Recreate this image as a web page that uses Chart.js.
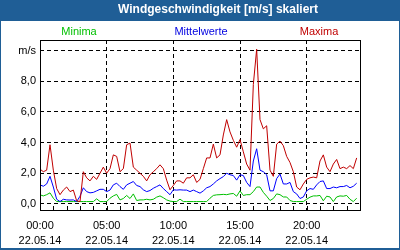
<!DOCTYPE html>
<html>
<head>
<meta charset="utf-8">
<script src="https://cdn.jsdelivr.net/npm/chart.js@4"></script>
<style>
html, body { margin: 0; padding: 0; background: #fff; }
</style>
</head>
<body>
<canvas id="wind" width="400" height="250"></canvas>
<script>
// 15 minute values, 22.05.14 00:00 - 23:45
var maxima = [2.27,2.1,2.2,3.86,2.2,1.0,0.6,0.9,1.1,0.8, 0.9,0.2,0.15,2.1,1.7,1.5,1.8,1.6,2.0,2.4,
    2.0,2.3,3.2,3.1,2.1,2.3,3.86,3.97,2.4,2.2, 2.0,1.8,1.5,1.9,2.1,2.3,2.55,2.3,1.55,0.92,
    1.2,1.5,1.5,1.35,1.7,1.7,1.9,1.4,1.6,2.3, 3.0,3.0,3.9,3.0,3.2,4.5,5.5,4.7,4.15,3.7,
    4.2,3.4,2.6,2.2,7.8,10.1,5.5,4.9,5.1,2.2, 1.8,3.9,4.1,3.8,3.1,2.7,2.1,1.1,0.92,1.3,
    1.6,1.7,1.75,1.7,2.8,3.2,2.4,2.1,2.6,2.9, 2.3,2.4,2.3,2.5,2.3,3.0];
var mittelwerte = [1.24,1.15,1.3,1.8,1.1,0.3,0.15,0.3,0.26,0.25, 0.26,0.15,0.5,1.05,0.8,0.72,0.75,0.85,0.95,0.95,
    0.8,0.9,1.24,1.35,1.13,0.95,1.24,1.35,1.46,1.2, 1.13,0.92,0.8,0.87,1.02,1.13,1.24,1.0,0.8,0.6,
    0.92,0.9,0.92,0.9,0.9,0.8,0.9,0.8,0.7,0.85, 1.05,1.13,1.3,1.5,1.65,1.78,2.0,1.9,1.85,1.55,
    1.9,1.85,1.4,1.13,2.8,3.6,2.2,2.1,1.9,0.85, 0.85,1.65,1.95,1.3,1.3,1.4,0.8,0.65,0.35,0.45,
    0.85,1.0,0.95,1.24,1.46,1.5,1.0,1.0,1.1,1.05, 1.13,1.13,1.2,1.05,1.15,1.35];
var minima = [0.59,0.52,0.6,0.72,0.37,0.15,0.15,0.15,0.15,0.15, 0.15,0.15,0.15,0.15,0.15,0.15,0.15,0.33,0.15,0.15,
    0.15,0.37,0.52,0.62,0.26,0.35,0.55,0.35,0.65,0.22, 0.26,0.26,0.3,0.26,0.3,0.44,0.52,0.4,0.26,0.18,
    0.15,0.15,0.31,0.15,0.15,0.15,0.15,0.15,0.15,0.15, 0.15,0.37,0.55,0.59,0.6,0.62,0.6,0.65,0.68,0.5,
    0.85,0.55,0.6,0.6,0.8,1.1,1.1,0.75,0.5,0.22, 0.35,0.65,0.6,0.45,0.45,0.22,0.15,0.15,0.15,0.15,
    0.3,0.44,0.52,0.52,0.55,0.2,0.5,0.45,0.15,0.45, 0.52,0.5,0.55,0.3,0.15,0.37];

var stepHours = 0.25;
var xTickHours = [0, 5, 10, 15, 20];
var dateLabel = '22.05.14';
var yTicks = [0, 2, 4, 6, 8, 10];
var yUnit = 'm/s';
var seriesNames = ['Minima', 'Mittelwerte', 'Maxima'];
var titleText = 'Windgeschwindigkeit [m/s] skaliert';

var frameBlue = '#1f5e96';
var colMin = '#00c000';
var colMid = '#0000ff';
var colMax = '#c00000';

function toPoints(arr){
    var pts = [];
    for(var i = 0; i < arr.length; i++){
        pts.push({x: i * stepHours, y: arr[i]});
    }
    return pts;
}

function hourLabel(h){
    return (h < 10 ? '0' + h : '' + h) + ':00';
}

var framePlugin = {
    id: 'frame',
    beforeDraw: function(chart){
        var ctx = chart.ctx;
        ctx.save();
        ctx.fillStyle = frameBlue;
        ctx.fillRect(0, 0, 400, 250);
        ctx.fillStyle = '#fff';
        ctx.fillRect(1, 21, 398, 227);
        ctx.restore();
    },
    afterDraw: function(chart){
        var ctx = chart.ctx;
        var a = chart.chartArea;
        var xs = chart.scales.x;
        ctx.save();
        // title
        ctx.fillStyle = '#fff';
        ctx.font = 'bold 12px "Liberation Sans", Arial, sans-serif';
        ctx.textAlign = 'center';
        ctx.textBaseline = 'middle';
        ctx.fillText(titleText, 218, 10);
        // series names
        ctx.font = '11px "Liberation Sans", Arial, sans-serif';
        ctx.fillStyle = '#00c000';
        ctx.fillText(seriesNames[0], 79, 32);
        ctx.fillStyle = '#0000e0';
        ctx.fillText(seriesNames[1], 201, 32);
        ctx.fillStyle = colMax;
        ctx.fillText(seriesNames[2], 319, 32);
        // hour ticks on the bottom line
        ctx.strokeStyle = '#000';
        ctx.lineWidth = 1;
        ctx.beginPath();
        for(var h = 1; h < 24; h++){
            var px = Math.round(xs.getPixelForValue(h)) + 0.5;
            ctx.moveTo(px, a.bottom);
            ctx.lineTo(px, a.bottom - 4);
        }
        ctx.stroke();
        // plot border
        ctx.setLineDash([]);
        ctx.strokeRect(Math.round(a.left) + 0.5, Math.round(a.top) + 0.5,
            Math.round(a.right - a.left), Math.round(a.bottom - a.top));
        ctx.restore();
    }
};

var ctx = document.getElementById('wind').getContext('2d');
var lineOpts = {borderWidth: 1, pointRadius: 0, tension: 0, fill: false};

var myChart = new Chart(ctx, {
    type: 'line',
    data: {
        datasets: [
            Object.assign({label: seriesNames[2], data: toPoints(maxima), borderColor: colMax}, lineOpts),
            Object.assign({label: seriesNames[1], data: toPoints(mittelwerte), borderColor: colMid}, lineOpts),
            Object.assign({label: seriesNames[0], data: toPoints(minima), borderColor: colMin}, lineOpts)
        ]
    },
    options: {
        responsive: false,
        animation: false,
        layout: {padding: {top: 40, right: 40, left: 0, bottom: 0}},
        plugins: {
            legend: {display: false},
            title: {display: false},
            tooltip: {enabled: false}
        },
        scales: {
            x: {
                type: 'linear',
                min: 0,
                max: 24,
                afterBuildTicks: function(scale){
                    scale.ticks = xTickHours.map(function(v){ return {value: v}; });
                },
                afterFit: function(scale){ scale.height = 40; },
                grid: {color: '#000', lineWidth: 1, drawTicks: false},
                border: {display: false, dash: [4, 3]},
                ticks: {
                    autoSkip: false,
                    maxRotation: 0,
                    padding: 8,
                    color: '#000',
                    font: {family: '"Liberation Sans", Arial, sans-serif', size: 11, lineHeight: '15px'},
                    callback: function(v){ return [hourLabel(v), dateLabel]; }
                }
            },
            y: {
                min: -0.4,
                max: 10.7,
                afterBuildTicks: function(scale){
                    scale.ticks = yTicks.map(function(v){ return {value: v}; });
                },
                afterFit: function(scale){ scale.width = 40; },
                grid: {color: '#000', lineWidth: 1, drawTicks: false},
                border: {display: false, dash: [4, 3]},
                ticks: {
                    padding: 4,
                    color: '#000',
                    font: {family: '"Liberation Sans", Arial, sans-serif', size: 11},
                    callback: function(v){
                        if(v == 10) return yUnit;
                        return v.toFixed(1).replace('.', ',');
                    }
                }
            }
        }
    },
    plugins: [framePlugin]
});
</script>
</body>
</html>
